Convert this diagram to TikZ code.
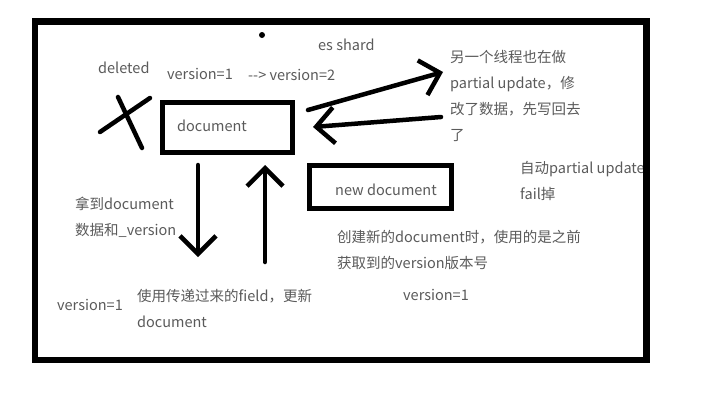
\documentclass[tikz,border=0pt]{standalone}
\usepackage{fontspec}
\setmainfont{Noto Sans CJK SC}
\usetikzlibrary{arrows.meta}
\definecolor{txtgray}{HTML}{5A5A5A}

\begin{document}
\begin{tikzpicture}[x=1pt,y=-1pt,>={Straight Barb[length=18pt,width=36pt]},
  lbl/.style={text=txtgray, font=\fontsize{14.5}{26}\selectfont, inner sep=0pt, anchor=west, align=left},
  box/.style={draw=black, line width=5pt, inner sep=0pt},
  pen/.style={line width=4.5pt, line cap=round}]
\useasboundingbox (0,0) rectangle (708,410);
% boxes
\node[box, minimum width=130pt, minimum height=50pt] (doc) at (227.5,127.5) {};
\node[lbl] (doctxt) at (177,126) {document};
\node[box, minimum width=142pt, minimum height=43pt] (newdoc) at (380.5,187) {};
\node[lbl] (newtxt) at (335,190) {new document};
% labels
\node[lbl] (shard) at (318,45) {es shard};
\node[lbl] (del) at (98,68) {deleted};
\node[lbl] (vone) at (167,74) {version=1};
\node[lbl] (vtwo) at (248,75) {{-}{-}> version=2};
\node[lbl] (other) at (450,96) {另一个线程也在做\\partial update，修\\改了数据，先写回去\\了};
\node[lbl] (fail) at (520,180.5) {自动partial update\\fail掉};
\node[lbl] (fetch) at (75,217) {拿到document\\数据和\_version};
\node[lbl] (create) at (337,250) {创建新的document时，使用的是之前\\获取到的version版本号};
\node[lbl] (vleft) at (57,305) {version=1};
\node[lbl] (upd) at (137,308.5) {使用传递过来的field，更新\\document};
\node[lbl] (vright) at (403,295) {version=1};
% free ends of the arrows
\coordinate (outA) at (308,110);
\coordinate (outB) at (443,72);
\coordinate (backA) at (441,117);
\coordinate (backB) at (313,127);
\coordinate (downA) at (198,165);
\coordinate (downB) at (198,257);
\coordinate (upA) at (265,262);
\coordinate (upB) at (265,165);
% arrows
\draw[pen,->] (outA) -- (outB);
\draw[pen,->] (backA) -- (backB);
\draw[pen,->] (downA) -- (downB);
\draw[pen,->] (upA) -- (upB);
% cross for deleted
\draw[pen] (100,132) -- (150,98);
\draw[pen] (118,97) -- (142,148);
\fill (262,35) circle (3pt);
% outer frame
\draw[line width=6.5pt] (35,21.5) rectangle (646.5,360);
\end{tikzpicture}
\end{document}
